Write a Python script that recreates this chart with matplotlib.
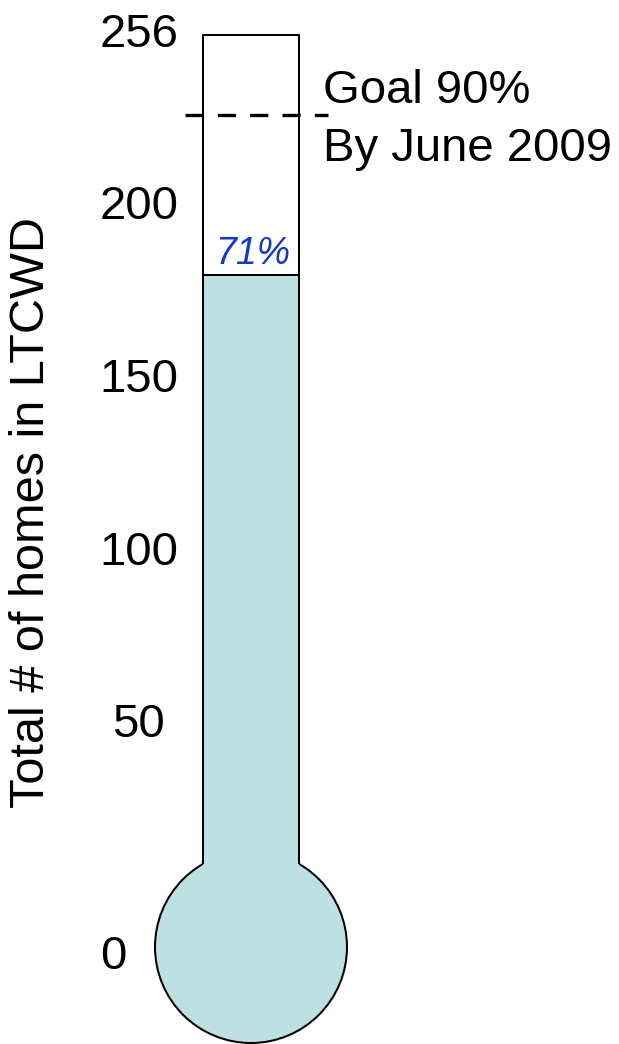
import matplotlib
matplotlib.use('Agg')
import matplotlib.pyplot as plt
from matplotlib.patches import Ellipse, Rectangle

plt.rcParams['font.family'] = ['Liberation Sans', 'DejaVu Sans']

# data
total_homes = 256
connected_pct = 71
goal_pct = 90
goal_lines = ['Goal 90%', 'By June 2009']
tick_labels = ['0', '50', '100', '150', '200', '256']
# where the slide put its labels (value units, not evenly spaced on the original)
tick_pos = [-27.5, 44.2, 97.4, 151.0, 204.4, 257.5]
tick_x = [113, 138, 139, 139, 139, 139]

connected = total_homes * connected_pct / 100.0
goal = total_homes * goal_pct / 100.0

# scale: pixels per home, tube is 828 px tall for 256 homes
W, H = 619, 1044
tube_top_px, tube_bot_px = 35, 863
s = (tube_bot_px - tube_top_px) / total_homes

def px2v(py):
    return (tube_bot_px - py) / s

fill_col = '#bde0e3'
edge_lw = 1.45

fig = plt.figure(figsize=(W / 100, H / 100), dpi=100)
ax = fig.add_axes([0, 0, 1, 1])
ax.set_xlim(0, W)
ax.set_ylim(px2v(H), px2v(0))
ax.axis('off')

tube_l, tube_r = 203, 299
cx = (tube_l + tube_r) / 2.0
r = 96

# bulb
bulb = Ellipse((cx, px2v(947)), 2 * r, 2 * r / s, facecolor=fill_col,
               edgecolor='k', lw=edge_lw, zorder=1)
ax.add_patch(bulb)

# white tube + mercury
ax.add_patch(Rectangle((tube_l, 0), tube_r - tube_l, total_homes,
                       facecolor='white', edgecolor='none', zorder=2))
ax.add_patch(Rectangle((tube_l, -2), tube_r - tube_l, connected + 2,
                       facecolor=fill_col, edgecolor='none', zorder=3))
ax.plot([tube_l, tube_l, tube_r, tube_r], [0, total_homes, total_homes, 0],
        color='k', lw=edge_lw, zorder=4, solid_joinstyle='miter')
ax.plot([tube_l, tube_r], [connected, connected], color='k', lw=edge_lw, zorder=4)

# goal line
ax.plot([185, 328], [goal + 1, goal + 1], color='k', lw=2.4,
        ls=(0, (18 / 3.3, 14 / 3.3)), zorder=5)

fs = 34
ax.text(323, px2v(103), goal_lines[0], fontsize=fs, ha='left', va='baseline', zorder=6)
ax.text(323, px2v(160.5), goal_lines[1], fontsize=fs, ha='left', va='baseline', zorder=6)

ax.text(cx + 2, px2v(263.5), '%d%%' % connected_pct, fontsize=27, style='italic',
        color='#1238d0', ha='center', va='baseline', zorder=6)

for lab, v, x in zip(tick_labels, tick_pos, tick_x):
    ax.text(x, v - 17 / s, lab, fontsize=fs, ha='center', va='baseline')

ax.text(32, px2v(512), 'Total # of homes in LTCWD', fontsize=35, rotation=90,
        ha='center', va='center')

fig.savefig('out.png', dpi=100)
